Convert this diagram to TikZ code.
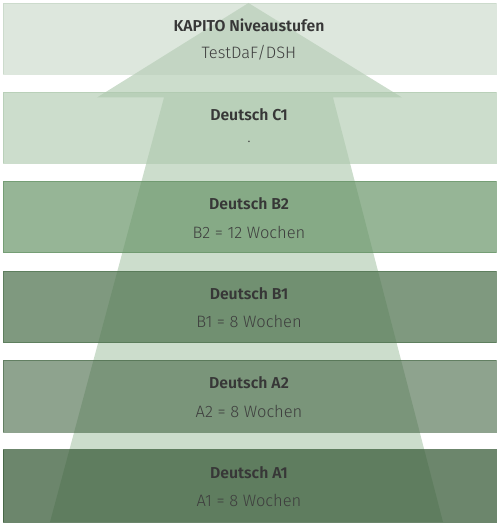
\documentclass[tikz,border=0pt]{standalone}
\usepackage{fontspec}
\setmainfont{Fira Sans}[BoldFont={Fira Sans SemiBold}]
\newfontfamily\lightfont{Fira Sans Light}
\usepackage{tikz}
\usetikzlibrary{positioning}
\definecolor{arrowgreen}{RGB}{204,221,204}
\definecolor{levelC2}{RGB}{187,207,187}
\definecolor{levelC1}{RGB}{174,201,174}
\definecolor{levelB2}{RGB}{103,148,103}
\definecolor{levelB1}{RGB}{82,118,82}
\definecolor{levelA2}{RGB}{70,104,70}
\definecolor{levelA1}{RGB}{59,94,59}
\definecolor{titlegrey}{RGB}{55,55,55}
\definecolor{weeksgrey}{RGB}{62,62,62}
\tikzset{% 
  level band/.style 2 args={%
    fill=#1,
    fill opacity=#2,
    draw=#1,
    draw opacity=#2,
    line width=0.5bp
  }
}
\tikzset{% 
  level title/.style={%
    text=titlegrey,
    font=\fontsize{15.8bp}{19bp}\selectfont\bfseries,
    inner sep=0pt
  }
}
\tikzset{% 
  level weeks/.style={%
    text=weeksgrey,
    font=\fontsize{16.5bp}{19bp}\selectfont\lightfont,
    inner sep=0pt
  }
}

\begin{document}
\begin{tikzpicture}[x=1bp, y=-1bp]
  \useasboundingbox (0,0) rectangle (500,526);
  % the arrow
  \fill [arrowgreen] (248.5,3) -- (402,97.5) -- (333,97.5) -- (443,522)
    -- (50,522) -- (164,97.5) -- (97,97.5) -- cycle;
  % the bands
  \filldraw [level band={levelC2}{0.5}] (3,3) rectangle (496,74);
  \filldraw [level band={levelC1}{0.63}] (3,92) rectangle (496,163);
  \filldraw [level band={levelB2}{0.69}] (3,181.5) rectangle (496,252.5);
  \filldraw [level band={levelB1}{0.74}] (3,271) rectangle (496,342.5);
  \filldraw [level band={levelA2}{0.61}] (3,360) rectangle (496,432);
  \filldraw [level band={levelA1}{0.75}] (3,449.5) rectangle (496,522);
  % the texts
  \node [level title] (c2) at (249,25.5) {KAPITO Niveaustufen};
  \node [level weeks] (c2w) at (249,53) {TestDaF/DSH};
  \node [level title] (c1) at (249,114.5) {Deutsch C1};
  \node [level weeks] (c1w) at (249,142) {.};
  \node [level title] (b2) at (249,204) {Deutsch B2};
  \node [level weeks] (b2w) at (249,232) {B2 = 12 Wochen};
  \node [level title] (b1) at (249,293.5) {Deutsch B1};
  \node [level weeks] (b1w) at (249,321) {B1 = 8 Wochen};
  \node [level title] (a2) at (249,383) {Deutsch A2};
  \node [level weeks] (a2w) at (249,411) {A2 = 8 Wochen};
  \node [level title] (a1) at (249,472.5) {Deutsch A1};
  \node [level weeks] (a1w) at (249,500) {A1 = 8 Wochen};
\end{tikzpicture}
\end{document}
